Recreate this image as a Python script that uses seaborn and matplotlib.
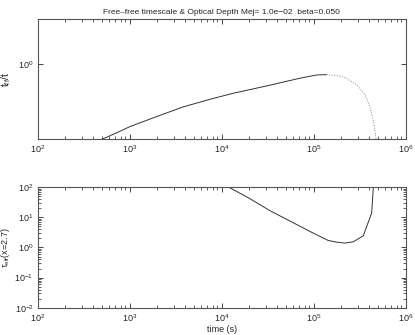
import numpy as np
import pandas as pd
import matplotlib
matplotlib.use("Agg")
import matplotlib.pyplot as plt
import seaborn as sns
from matplotlib.ticker import LogLocator, NullLocator

# top panel: free-free timescale ratio (solid part, then dotted tail)
t_solid = [400, 497, 690, 1.0e3, 1.96e3, 3.83e3, 7.46e3, 1.34e4, 3.08e4, 7.1e4, 1.08e5, 1.38e5]
tff_solid = [0.175, 0.2, 0.226, 0.262, 0.325, 0.40, 0.47, 0.535, 0.625, 0.737, 0.79, 0.795]
t_dot = [1.38e5, 1.8e5, 2.28e5, 2.93e5, 3.61e5, 4.09e5, 4.45e5, 4.75e5, 4.85e5]
tff_dot = [0.795, 0.78, 0.737, 0.64, 0.52, 0.40, 0.30, 0.205, 0.15]

# bottom panel: effective optical depth at x=2.7
t_tau = [1.0e4, 1.2e4, 2.0e4, 3.35e4, 5.0e4, 9.16e4, 1.17e5, 1.44e5, 1.8e5, 2.19e5,
         2.7e5, 3.46e5, 4.27e5, 4.45e5, 4.5e5]
tau = [135, 100, 43, 16.7, 8.85, 3.39, 2.33, 1.71, 1.5, 1.40,
       1.55, 2.45, 14, 100, 1000]

sns.set_style("ticks")
plt.rcParams['font.family'] = ['Liberation Sans', 'DejaVu Sans']
plt.rcParams['mathtext.fontset'] = 'custom'
plt.rcParams['mathtext.rm'] = 'Liberation Sans'
plt.rcParams['mathtext.it'] = 'Liberation Sans'
plt.rcParams['mathtext.default'] = 'regular'

fig = plt.figure(figsize=(4.15, 3.35), dpi=100)
ax1 = fig.add_axes([0.0908, 0.584, 0.8867, 0.359])
ax2 = fig.add_axes([0.0908, 0.0815, 0.8867, 0.3594])

line_col = '#333333'
sns.lineplot(x=t_solid, y=tff_solid, ax=ax1, color=line_col, lw=0.7,
             estimator=None, sort=False)
sns.lineplot(x=t_dot, y=tff_dot, ax=ax1, color='#888888', lw=0.7,
             linestyle=':', estimator=None, sort=False)
sns.lineplot(x=t_tau, y=tau, ax=ax2, color=line_col, lw=0.7,
             estimator=None, sort=False)

for ax in (ax1, ax2):
    ax.set_xscale('log')
    ax.set_yscale('log')
    ax.set_xlim(1e2, 1e6)
    ax.xaxis.set_major_locator(LogLocator(base=10, numticks=10))
    ax.xaxis.set_minor_locator(LogLocator(base=10, subs=np.arange(2, 10), numticks=10))
    ax.tick_params(which='both', direction='in', bottom=True, left=True,
                   top=True, right=True, labelsize=6.5, color='#444444', pad=3)
    ax.tick_params(which='major', length=3.5, width=0.7)
    ax.tick_params(which='minor', length=2, width=0.6)
    for s in ax.spines.values():
        s.set_color('#555555')
        s.set_linewidth(0.8)

ax1.set_ylim(0.2, 2.6)
ax1.yaxis.set_major_locator(LogLocator(base=10, numticks=10))
ax1.yaxis.set_minor_locator(NullLocator())
ax1.set_ylabel(r'$t_{ff}/t$', fontsize=7.5, labelpad=4)
ax1.set_title('Free\u2013free timescale & Optical Depth Mej= 1.0e\u221202  beta=0.050',
              fontsize=6, pad=4)

ax2.set_ylim(1e-2, 1e2)
ax2.yaxis.set_major_locator(LogLocator(base=10, numticks=10))
ax2.yaxis.set_minor_locator(LogLocator(base=10, subs=np.arange(2, 10), numticks=10))
ax2.set_ylabel(r'$\tau_{eff}$(x=2.7)', fontsize=6.5, labelpad=2)
ax2.set_xlabel('time (s)', fontsize=6.5, labelpad=1)

fig.savefig('out.png', dpi=100)
